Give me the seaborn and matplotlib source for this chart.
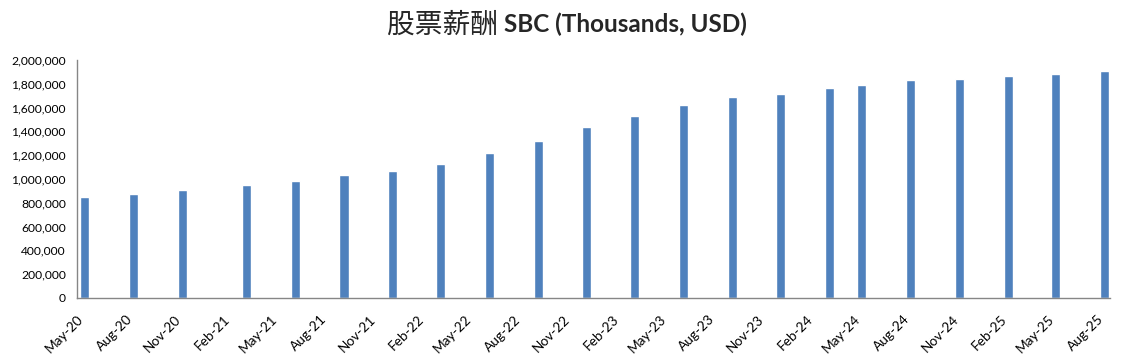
import numpy as np
import pandas as pd
import matplotlib
matplotlib.use("Agg")
import matplotlib.pyplot as plt
import matplotlib.dates as mdates
import matplotlib.ticker as mticker
import seaborn as sns

# quarterly SBC, thousands USD
dates = ["2020-05-15", "2020-08-15", "2020-11-15", "2021-03-15", "2021-06-15",
         "2021-09-15", "2021-12-15", "2022-03-15", "2022-06-15", "2022-09-15",
         "2022-12-15", "2023-03-15", "2023-06-15", "2023-09-15", "2023-12-15",
         "2024-03-15", "2024-05-15", "2024-08-15", "2024-11-15", "2025-02-15",
         "2025-05-15", "2025-08-15"]
sbc = [845000, 876000, 910000, 952000, 986000,
       1036000, 1070000, 1129000, 1222000, 1323000,
       1441000, 1533000, 1618000, 1685000, 1718000,
       1761000, 1794000, 1828000, 1837000, 1862000,
       1879000, 1904000]
tickDates = pd.date_range("2020-05-01", "2025-08-01", freq="3MS")

sns.set_theme(style="white")
plt.rcParams['font.family'] = ['Lato', 'Noto Sans CJK SC', 'DejaVu Sans']

df = pd.DataFrame({"date": mdates.date2num(pd.to_datetime(dates)), "sbc": sbc})

fig = plt.figure(figsize=(11.25, 3.57), dpi=100)
ax = fig.add_axes([77/1125, 1-298/357, (1110-77)/1125, (298-60)/357])

sns.barplot(data=df, x="date", y="sbc", native_scale=True, color="#4F81BD",
            saturation=1, width=0.28, ax=ax)

ax.set_xlim(mdates.date2num(pd.Timestamp("2020-05-01")), mdates.date2num(pd.Timestamp("2025-08-25")))
ax.set_ylim(0, 2000000)
ax.set_yticks(np.arange(0, 2000001, 200000))
ax.yaxis.set_major_formatter(mticker.FuncFormatter(lambda v, p: f"{int(v):,}"))
ax.set_xticks(mdates.date2num(tickDates))
ax.set_xticklabels([d.strftime("%b-%y") for d in tickDates], rotation=45,
                   ha="right", va="top", rotation_mode="anchor")
ax.set_xlabel("")
ax.set_ylabel("")

sns.despine(ax=ax, top=True, right=True)
for s in ["left", "bottom"]:
    ax.spines[s].set_color("#868686")
    ax.spines[s].set_linewidth(1)
ax.tick_params(axis="both", which="major", direction="out", length=5, width=1,
               color="#868686", labelcolor="#000000", pad=3)
ax.tick_params(axis="y", labelsize=8.7)
ax.tick_params(axis="x", pad=6, labelsize=9.8)
ax.grid(False)

# title: chinese part regular, latin part bold
fig.text(0.448, 0.932, "股票薪酬 ", ha="right", va="center", fontsize=20,
         family=['Noto Sans CJK SC', 'DejaVu Sans'])
fig.text(0.448, 0.932, "SBC (Thousands, USD)", ha="left", va="center",
         fontsize=17.5, fontweight="bold", family=['Lato', 'DejaVu Sans'])

fig.savefig("out.png", dpi=100)
